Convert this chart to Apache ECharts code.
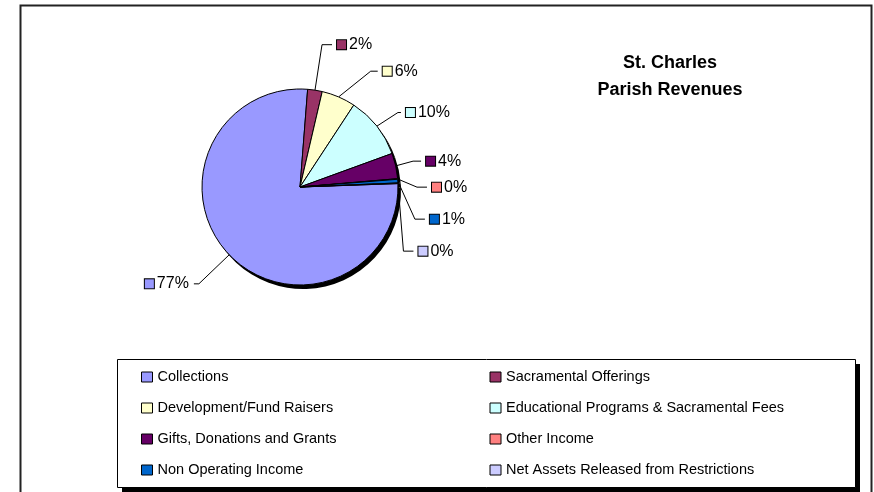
<!DOCTYPE html>
<html>
<head>
<meta charset="utf-8">
<script src="https://cdn.jsdelivr.net/npm/echarts@6/dist/echarts.min.js"></script>
<style>
  html, body { margin: 0; padding: 0; background: #fff; }
  #chart { width: 874px; height: 492px; }
</style>
</head>
<body>
<div id="chart"></div>
<script>
// revenue shares (percent)
const categories = [
    'Collections',
    'Sacramental Offerings',
    'Development/Fund Raisers',
    'Educational Programs & Sacramental Fees',
    'Gifts, Donations and Grants',
    'Other Income',
    'Non Operating Income',
    'Net Assets Released from Restrictions',
];
const shares = [76.8, 2.4, 5.6, 10.2, 4.2, 0.1, 0.6, 0.1];
const colors = ['#9999FF', '#993366', '#FFFFCC', '#CCFFFF', '#660066', '#FF8080', '#0066CC', '#CCCCFF'];
const titleLines = ['St. Charles', 'Parish Revenues'];

// leader line lengths per slice, so the labels sit roughly where the original put them
const leaderLen = [42, 46, 28, 22, 22, 24, 26, 28];
const leaderLen2 = [5, 10, 7, 3, 8, 10, 10, 10];
// the crowded slices near 3 o'clock get thin blank lines round their label to spread them apart
const spreadLabel = [false, false, false, false, false, true, true, true];

const FONT = '"Liberation Sans", Arial, sans-serif';

// rich styles per slice: little colour key + percent text
const rich = {gap: {fontSize: 6, lineHeight: 6}};
colors.forEach((c, i) => {
    rich['k' + i] = {width: 9, height: 9, backgroundColor: c, borderColor: '#000', borderWidth: 1};
    rich['t' + i] = {fontSize: 16, color: '#000', fontFamily: FONT, padding: [0, 0, 0, 3], lineHeight: 18};
});

const pieData = categories.map((name, i) => ({
    name: name,
    value: shares[i],
    itemStyle: {color: colors[i]},
    labelLine: {length: leaderLen[i], length2: leaderLen2[i]},
}));

// same pie in black, nudged down-right, works as the drop shadow
const shadowData = categories.map((name, i) => ({name: name, value: shares[i]}));

const legendData = categories.map((name, i) => ({
    name: name,
    itemStyle: {color: colors[i], borderColor: '#000', borderWidth: 1},
}));

function labelText(p) {
    const i = p.dataIndex;
    const txt = '{k' + i + '|}{t' + i + '|' + Math.round(p.percent) + '%}';
    return spreadLabel[i] ? '{gap| }\n' + txt + '\n{gap| }' : txt;
}

const chart = echarts.init(document.getElementById('chart'));
chart.setOption({
    animation: false,
    backgroundColor: '#fff',
    color: colors,
    title: {
        text: titleLines.join('\n'),
        left: 665,
        top: 45,
        textAlign: 'center',
        textStyle: {fontFamily: FONT, fontSize: 18, fontWeight: 'bold', color: '#000', lineHeight: 27},
    },
    graphic: [
        {
            type: 'rect',
            left: 18,
            top: 3,
            shape: {width: 851, height: 520},
            style: {fill: 'none', stroke: '#222', lineWidth: 2},
            silent: true,
            z: 0,
        },
        {
            // legend box shadow
            type: 'rect',
            left: 122,
            top: 364,
            shape: {width: 738, height: 129},
            style: {fill: '#000'},
            silent: true,
            z: 0,
        },
        {
            type: 'rect',
            left: 117,
            top: 359,
            shape: {width: 738, height: 128},
            style: {fill: '#fff', stroke: '#000', lineWidth: 1},
            silent: true,
            z: 1,
        },
    ],
    legend: {
        data: legendData,
        left: 141,
        top: 369,
        width: 700,
        orient: 'horizontal',
        icon: 'rect',
        itemWidth: 11,
        itemHeight: 10,
        itemGap: 15,
        padding: 0,
        z: 5,
        textStyle: {fontFamily: FONT, fontSize: 14.5, color: '#000', width: 317, lineHeight: 16},
        selectedMode: false,
    },
    series: [
        {
            type: 'pie',
            name: 'shadow',
            center: [303, 191],
            radius: 98,
            startAngle: 2,
            silent: true,
            z: 1,
            data: shadowData,
            itemStyle: {color: '#000', borderWidth: 0},
            label: {show: false},
            labelLine: {show: false},
            emphasis: {disabled: true},
            legendHoverLink: false,
        },
        {
            type: 'pie',
            name: 'Revenues',
            center: [300, 187],
            radius: 98,
            startAngle: 2,
            clockwise: true,
            avoidLabelOverlap: true,
            z: 2,
            data: pieData,
            itemStyle: {borderColor: '#000', borderWidth: 1},
            label: {
                show: true,
                formatter: labelText,
                rich: rich,
                fontSize: 16,
                lineHeight: 16,
            },
            labelLine: {
                show: true,
                lineStyle: {color: '#000', width: 1},
            },
            emphasis: {disabled: true},
        },
    ],
});

window.addEventListener('resize', () => {
    chart.resize();
});
</script>
</body>
</html>
